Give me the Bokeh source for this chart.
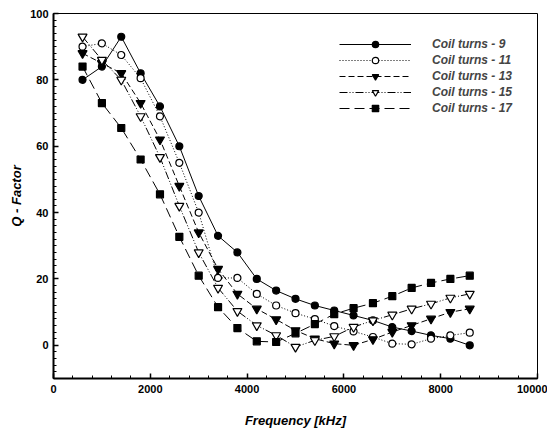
from bokeh.plotting import figure
from bokeh.models import Range1d, SingleIntervalTicker, Legend, LegendItem
from bokeh.embed import file_html
from bokeh.resources import INLINE

freq = [600, 1000, 1400, 1800, 2200, 2600, 3000, 3400, 3800, 4200, 4600,
        5000, 5400, 5800, 6200, 6600, 7000, 7400, 7800, 8200, 8600]
coil9 = [80, 84, 93, 82, 72, 60, 45, 33, 28, 20, 16.5, 14, 12, 10.5, 9, 7.5, 5.5, 4.3, 3, 2, 0]
coil11 = [90, 91, 87.5, 80.5, 69, 55, 40, 20.3, 20.3, 15.5, 12, 9.7, 7.9, 5.8, 4.2, 2.5, 0.5, 0.3, 2, 3, 3.8]
coil13 = [88, 85, 82, 73, 62, 48, 34, 23, 15.5, 11, 7.8, 4.5, 2, 0.5, 0, 1.8, 4, 6, 8, 10, 11]
coil15 = [93, 86, 80, 69, 56.7, 42, 28, 17.3, 10.3, 6, 3, -0.5, 1.5, 2.7, 5.5, 7.5, 9.2, 11, 12.5, 14.3, 15.5]
coil17 = [84, 73, 65.5, 56, 45.5, 32.7, 21, 11.5, 5.2, 1.2, 1, 3.6, 6.4, 9.4, 11.2, 12.7, 14.8, 17.3, 18.8, 20, 21]
labels = ["Coil turns - 9", "Coil turns - 11", "Coil turns - 13", "Coil turns - 15", "Coil turns - 17"]

p = figure(width=547, height=430, output_backend="svg", toolbar_location=None,
           x_range=Range1d(0, 10000), y_range=Range1d(-10, 100),
           min_border_left=53, min_border_right=10, min_border_top=13, min_border_bottom=52)
p.xgrid.visible = False
p.ygrid.visible = False
p.outline_line_color = "black"
p.outline_line_width = 1

series = [coil9, coil11, coil13, coil15, coil17]
dashes = ["solid", "1 2", "6 3", "8 2 1 2 1 2", "10 5"]
markers = ["circle", "circle", "inverted_triangle", "inverted_triangle", "square"]
fills = ["black", "white", "black", "white", "black"]
sizes = [7, 7, 9, 9, 7]

items = []
for ys, d, m, f, s, lab in zip(series, dashes, markers, fills, sizes, labels):
    lr = p.line(freq, ys, line_color="black", line_width=1, line_dash=d)
    mr = p.scatter(freq, ys, marker=m, size=s, fill_color=f, line_color="black", line_width=1.2)
    items.append(LegendItem(label=lab, renderers=[lr, mr]))

legend = Legend(items=items, location=(286, 262), glyph_width=72, glyph_height=16,
                label_height=16, spacing=0, padding=0, margin=0, label_standoff=21,
                border_line_alpha=0, background_fill_alpha=0,
                label_text_font="Liberation Sans", label_text_font_style="bold italic",
                label_text_font_size="12px")
p.add_layout(legend, "center")

for ax in (p.xaxis[0], p.yaxis[0]):
    ax.axis_line_width = 2
    ax.major_tick_in = 5
    ax.major_tick_out = 0
    ax.minor_tick_in = 3
    ax.minor_tick_out = 0
    ax.major_tick_line_width = 1.5
    ax.major_label_text_font = "Liberation Sans"
    ax.major_label_text_font_style = "bold"
    ax.major_label_text_font_size = "11px"
    ax.major_label_text_color = "black"
    ax.axis_label_text_font = "Liberation Sans"
    ax.axis_label_text_font_style = "bold italic"
    ax.axis_label_text_font_size = "13px"
    ax.axis_label_text_color = "black"

p.xaxis.ticker = SingleIntervalTicker(interval=2000, num_minor_ticks=5)
p.yaxis.ticker = SingleIntervalTicker(interval=20, num_minor_ticks=10)
p.xaxis.axis_label = "Frequency [kHz]"
p.yaxis.axis_label = "Q - Factor"
p.xaxis.major_label_standoff = 6
p.yaxis.major_label_standoff = 5
p.xaxis.axis_label_standoff = 17
p.yaxis.axis_label_standoff = 3

open("out.html", "w").write(file_html(p, INLINE))
